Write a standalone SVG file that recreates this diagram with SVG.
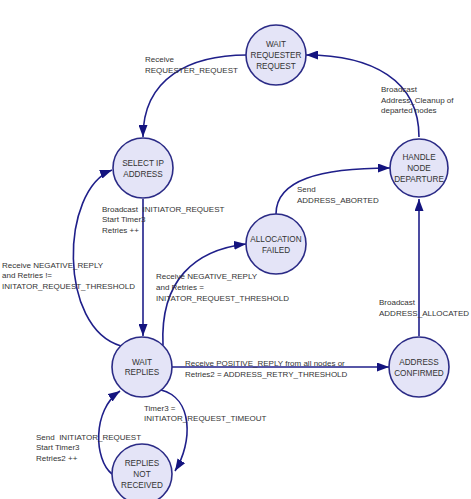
<svg xmlns="http://www.w3.org/2000/svg" width="471" height="499" viewBox="0 0 471 499">
<style>
.node circle{fill:#e4e4f7;stroke:#2b2b86;stroke-width:1.6}
.node text{font-family:"Liberation Sans",Arial,sans-serif;font-size:8.2px;fill:#333333;text-anchor:middle}
.lbl{font-family:"Liberation Sans",Arial,sans-serif;font-size:8px;fill:#333333}
.edge{fill:none;stroke:#1f1f8a;stroke-width:1.6;marker-end:url(#ah)}
</style>
<defs>
<marker id="ah" viewBox="0 0 12 9" refX="12" refY="4.5" markerWidth="12" markerHeight="9" markerUnits="userSpaceOnUse" orient="auto">
<path d="M0,0 L12,4.5 L0,9 Z" fill="#14147f"/>
</marker>
</defs>
<rect width="471" height="499" fill="#ffffff"/>
<g id="connectors">
<path class="edge" d="M247,55 C190,55 143,78 143,137"/>
<path class="edge" d="M419,137 C419,80 372,55 306,55"/>
<path class="edge" d="M143,199 L143,336"/>
<path class="edge" d="M121,346 C58,328 60,190 112,170"/>
<path class="edge" d="M163,345 C160,280 195,250 246,244"/>
<path class="edge" d="M276,214 C276,180 320,168 390,168"/>
<path class="edge" d="M419,336 L419,199"/>
<path class="edge" d="M172,367 L389,367"/>
<path class="edge" d="M161,390 C193,398 193,442 175,471"/>
<path class="edge" d="M112,474 C94,460 92,410 120,391"/>
</g>
<g id="labels">
<text class="lbl" x="145" y="62">Receive</text>
<text class="lbl" x="145" y="73">REQUESTER_REQUEST</text>
<text class="lbl" x="381" y="92">Broadcast</text>
<text class="lbl" x="381" y="103">Address_Cleanup of</text>
<text class="lbl" x="381" y="113">departed nodes</text>
<text class="lbl" x="297" y="192">Send</text>
<text class="lbl" x="297" y="203">ADDRESS_ABORTED</text>
<text class="lbl" x="102" y="212" xml:space="preserve">Broadcast  INITIATOR_REQUEST</text>
<text class="lbl" x="102" y="222">Start Timer3</text>
<text class="lbl" x="102" y="233">Retries ++</text>
<text class="lbl" x="2" y="268">Receive NEGATIVE_REPLY</text>
<text class="lbl" x="2" y="278">and Retries !=</text>
<text class="lbl" x="2" y="289">INITATOR_REQUEST_THRESHOLD</text>
<text class="lbl" x="156" y="279">Receive NEGATIVE_REPLY</text>
<text class="lbl" x="156" y="290">and Retries =</text>
<text class="lbl" x="156" y="301">INITATOR_REQUEST_THRESHOLD</text>
<text class="lbl" x="379" y="305">Broadcast</text>
<text class="lbl" x="379" y="316">ADDRESS_ALLOCATED</text>
<text class="lbl" x="185" y="366">Receive POSITIVE_REPLY from all nodes or</text>
<text class="lbl" x="185" y="377">Retries2 = ADDRESS_RETRY_THRESHOLD</text>
<text class="lbl" x="144" y="411">Timer3 =</text>
<text class="lbl" x="144" y="421">INITIATOR_REQUEST_TIMEOUT</text>
<text class="lbl" x="36" y="440" xml:space="preserve">Send  INITIATOR_REQUEST</text>
<text class="lbl" x="36" y="450">Start Timer3</text>
<text class="lbl" x="36" y="461">Retries2 ++</text>
</g>
<g id="wait-requester-request" class="node">
<circle cx="276" cy="55" r="30"/>
<text x="276" y="47">WAIT</text>
<text x="276" y="58">REQUESTER</text>
<text x="276" y="69">REQUEST</text>
</g>
<g id="select-ip-address" class="node">
<circle cx="143" cy="168" r="30"/>
<text x="143" y="166">SELECT IP</text>
<text x="143" y="177">ADDRESS</text>
</g>
<g id="handle-node-departure" class="node">
<circle cx="419" cy="168" r="29"/>
<text x="419" y="160">HANDLE</text>
<text x="419" y="171">NODE</text>
<text x="419" y="182">DEPARTURE</text>
</g>
<g id="allocation-failed" class="node">
<circle cx="276" cy="244" r="30"/>
<text x="276" y="242">ALLOCATION</text>
<text x="276" y="253">FAILED</text>
</g>
<g id="wait-replies" class="node">
<circle cx="142" cy="367" r="30"/>
<text x="142" y="365">WAIT</text>
<text x="142" y="375">REPLIES</text>
</g>
<g id="address-confirmed" class="node">
<circle cx="419" cy="367" r="30"/>
<text x="419" y="365">ADDRESS</text>
<text x="419" y="376">CONFIRMED</text>
</g>
<g id="replies-not-received" class="node">
<circle cx="142" cy="474" r="30"/>
<text x="142" y="466">REPLIES</text>
<text x="142" y="477">NOT</text>
<text x="142" y="488">RECEIVED</text>
</g>
</svg>
